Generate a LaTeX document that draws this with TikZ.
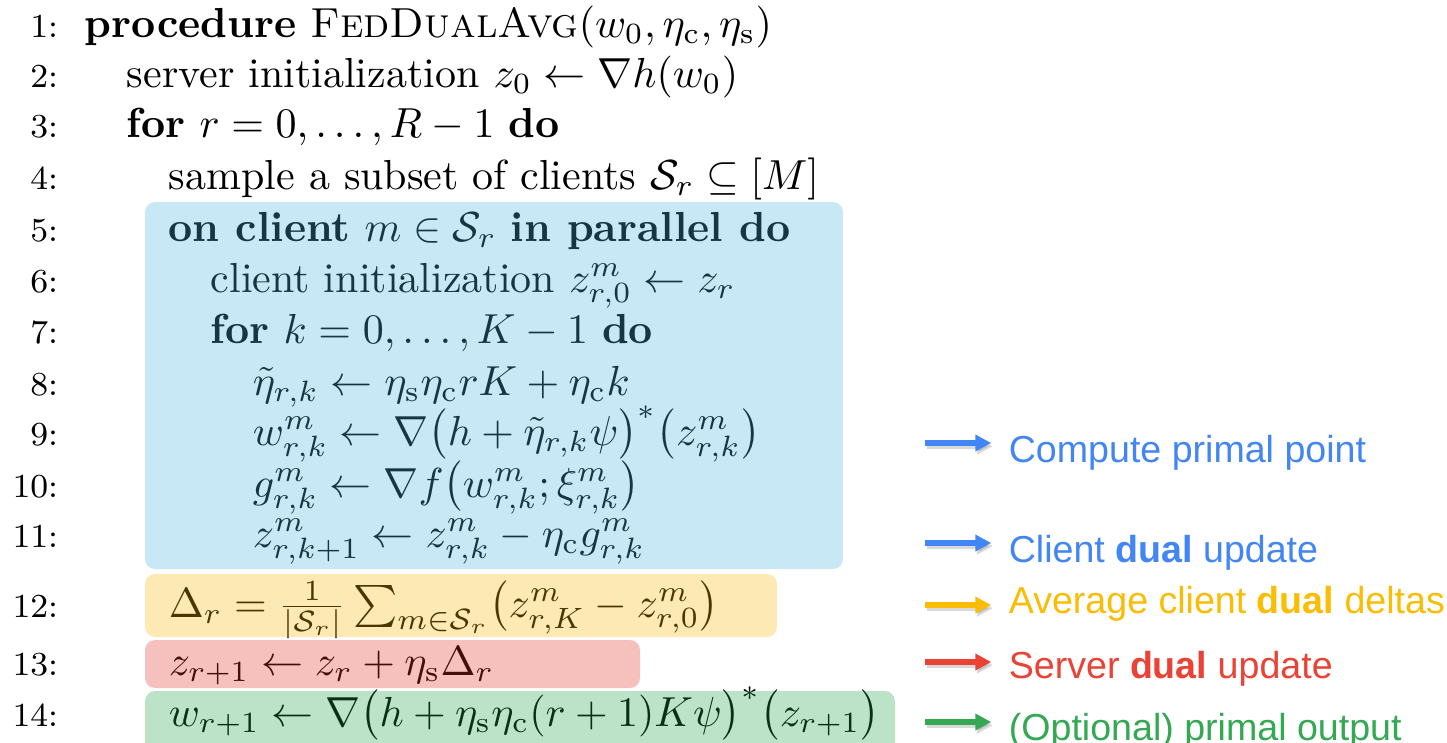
\documentclass[tikz,border=0pt]{standalone}
\usepackage{amsmath}
\usepackage{amssymb}
\usepackage{fontspec}
\newfontfamily\legfont{Liberation Sans}
\usepackage{tikz}
\usetikzlibrary{arrows.meta}

\definecolor{gblue}{HTML}{4285F4}
\definecolor{gyellow}{HTML}{FBBC04}
\definecolor{gred}{HTML}{EA4335}
\definecolor{ggreen}{HTML}{34A853}
\definecolor{boxblue}{RGB}{75,180,225}
\definecolor{boxyellow}{RGB}{248,182,8}
\definecolor{boxred}{RGB}{225,48,38}
\definecolor{boxgreen}{RGB}{32,162,72}

\newcommand{\etac}{\eta_{\mathrm{c}}}
\newcommand{\etas}{\eta_{\mathrm{s}}}

\begin{document}
\begin{tikzpicture}[x=0.2381pt,y=-0.2381pt]

		\tikzstyle{lnum}=[anchor=base east, inner sep=0pt, font=\footnotesize]
		\tikzstyle{algline}=[anchor=base west, inner sep=0pt, font=\normalsize]
		\tikzstyle{hl}=[rounded corners=2.4pt, fill opacity=0.3]
		\tikzstyle{leg}=[anchor=base west, inner sep=0pt, font=\legfont\fontsize{8.95}{11}\selectfont]
		\tikzstyle{legarrow}=[line width=1.2pt, shorten >=4pt, -{Triangle[length=3.8pt,width=3.8pt]}]
		\tikzstyle{legshadow}=[legarrow, gray, opacity=0.3, transform canvas={xshift=0.4pt,yshift=-0.75pt}]

	\clip (0,0) rectangle (1447,742);

	%line numbers
	\node [lnum] (n1) at (59,37) {1:};
	\node [lnum] (n2) at (59,87) {2:};
	\node [lnum] (n3) at (59,137) {3:};
	\node [lnum] (n4) at (59,189) {4:};
	\node [lnum] (n5) at (59,241) {5:};
	\node [lnum] (n6) at (59,292) {6:};
	\node [lnum] (n7) at (59,343) {7:};
	\node [lnum] (n8) at (59,395) {8:};
	\node [lnum] (n9) at (59,445) {9:};
	\node [lnum] (n10) at (59,497) {10:};
	\node [lnum] (n11) at (59,547) {11:};
	\node [lnum] (n12) at (59,617) {12:};
	\node [lnum] (n13) at (59,675) {13:};
	\node [lnum] (n14) at (59,726) {14:};

	%algorithm lines
	\node [algline] (l1) at (84,37) {\textbf{procedure} \textsc{FedDualAvg}$(w_0,\etac,\etas)$};
	\node [algline] (l2) at (126,87) {server initialization $z_0 \leftarrow \nabla h(w_0)$};
	\node [algline] (l3) at (126,137) {\textbf{for} $r = 0, \dots, R-1$ \textbf{do}};
	\node [algline] (l4) at (168,189) {sample a subset of clients $\mathcal{S}_r \subseteq [M]$};
	\node [algline] (l5) at (168,241) {\textbf{on client} $m \in \mathcal{S}_r$ \textbf{in parallel do}};
	\node [algline] (l6) at (210,292) {client initialization $z_{r,0}^m \leftarrow z_r$};
	\node [algline] (l7) at (210,343) {\textbf{for} $k = 0, \dots, K-1$ \textbf{do}};
	\node [algline] (l8) at (252,395) {$\tilde{\eta}_{r,k} \leftarrow \etas\etac r K + \etac k$};
	\node [algline] (l9) at (252,445) {$w_{r,k}^m \leftarrow \nabla\bigl(h + \tilde{\eta}_{r,k}\psi\bigr)^*\bigl(z_{r,k}^m\bigr)$};
	\node [algline] (l10) at (252,497) {$g_{r,k}^m \leftarrow \nabla f\bigl(w_{r,k}^m; \xi_{r,k}^m\bigr)$};
	\node [algline] (l11) at (252,547) {$z_{r,k+1}^m \leftarrow z_{r,k}^m - \etac g_{r,k}^m$};
	\node [algline] (l12) at (168,617) {$\Delta_r = \frac{1}{|\mathcal{S}_r|}\sum_{m\in\mathcal{S}_r}\bigl(z_{r,K}^m - z_{r,0}^m\bigr)$};
	\node [algline] (l13) at (168,675) {$z_{r+1} \leftarrow z_r + \etas \Delta_r$};
	\node [algline] (l14) at (168,726) {$w_{r+1} \leftarrow \nabla\bigl(h + \etas\etac(r+1)K\psi\bigr)^*\bigl(z_{r+1}\bigr)$};

	%coloured highlights over the text
	\fill [hl, boxblue] (145,202) rectangle (843,569);
	\fill [hl, boxyellow] (145,574) rectangle (777,637);
	\fill [hl, boxred] (145,640) rectangle (640,688);
	\fill [hl, boxgreen] (145,691) rectangle (895,760);

	%legend
	\node [leg, gblue] (cpp) at (1008,462) {Compute primal point};
	\node [leg, gblue] (cdu) at (1008,562) {Client \textbf{dual} update};
	\node [leg, gyellow] (acd) at (1008,613) {Average client \textbf{dual} deltas};
	\node [leg, gred] (sdu) at (1008,678) {Server \textbf{dual} update};
	\node [leg, ggreen] (opo) at (1008,740) {(Optional) primal output};

	\coordinate (a1) at (925,443);
	\coordinate (a2) at (925,543);
	\coordinate (a3) at (925,605);
	\coordinate (a4) at (925,662);
	\coordinate (a5) at (925,722);

	%arrow shadows
	\draw [legshadow] (a1) -- (a1 -| cpp.west);
	\draw [legshadow] (a2) -- (a2 -| cdu.west);
	\draw [legshadow] (a3) -- (a3 -| acd.west);
	\draw [legshadow] (a4) -- (a4 -| sdu.west);
	\draw [legshadow] (a5) -- (a5 -| opo.west);

	%arrows
	\draw [legarrow, gblue] (a1) -- (a1 -| cpp.west);
	\draw [legarrow, gblue] (a2) -- (a2 -| cdu.west);
	\draw [legarrow, gyellow] (a3) -- (a3 -| acd.west);
	\draw [legarrow, gred] (a4) -- (a4 -| sdu.west);
	\draw [legarrow, ggreen] (a5) -- (a5 -| opo.west);

\end{tikzpicture}
\end{document}
